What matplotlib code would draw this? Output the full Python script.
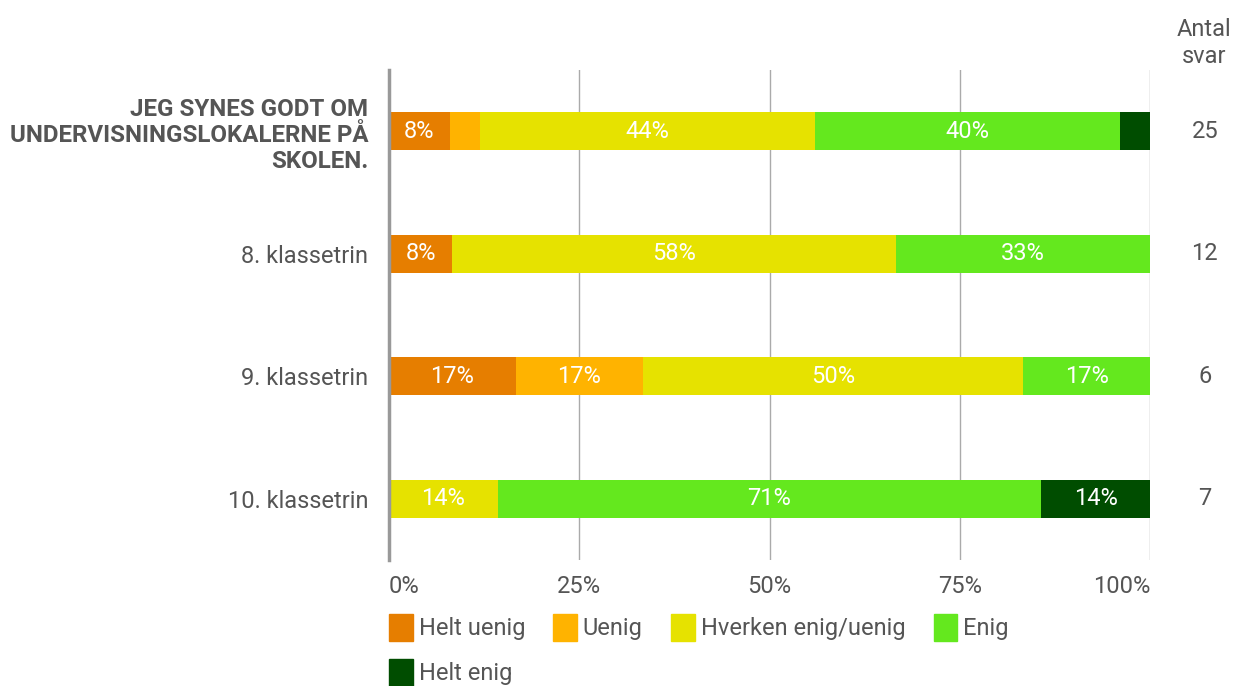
import matplotlib
matplotlib.use("Agg")
import matplotlib.pyplot as plt
from matplotlib.patches import Patch

plt.rcParams['font.family'] = ['Roboto', 'DejaVu Sans']

# Data
rows = ["JEG SYNES GODT OM\nUNDERVISNINGSLOKALERNE PÅ\nSKOLEN.",
        "8. klassetrin", "9. klassetrin", "10. klassetrin"]
answers = [25, 12, 6, 7]
categories = ["Helt uenig", "Uenig", "Hverken enig/uenig", "Enig", "Helt enig"]
helt_uenig = [8.0, 8.33, 16.67, 0.0]
uenig = [4.0, 0.0, 16.67, 0.0]
hverken = [44.0, 58.33, 50.0, 14.29]
enig = [40.0, 33.33, 16.67, 71.43]
helt_enig = [4.0, 0.0, 0.0, 14.29]
colors = ["#E67E00", "#FFB300", "#E6E200", "#64E81E", "#004D00"]
xticks = [0, 25, 50, 75, 100]
xtick_labels = ["0%", "25%", "50%", "75%", "100%"]

series = [helt_uenig, uenig, hverken, enig, helt_enig]
text_col = "#555555"
fs = 17

fig = plt.figure(figsize=(12.34, 6.86), dpi=100)
ax = fig.add_axes([389 / 1234, 1 - 560 / 686, 761 / 1234, 490 / 686])

y = list(range(len(rows)))
left = [0.0] * len(rows)
for vals, col, name in zip(series, colors, categories):
    ax.barh(y, vals, left=left, height=0.31, color=col, label=name)
    for i, v in enumerate(vals):
        if v >= 6:
            ax.text(left[i] + v / 2, i, f"{round(v)}%", ha="center", va="center",
                    color="white", fontsize=fs)
    left = [l + v for l, v in zip(left, vals)]

ax.set_xlim(0, 100)
ax.set_ylim(3.5, -0.5)
ax.set_xticks(xticks)
ax.set_xticklabels(xtick_labels)
ax.set_yticks(y)
ax.set_yticklabels(rows)
ax.tick_params(axis="both", length=0, labelcolor=text_col, labelsize=fs)
ax.tick_params(axis="y", pad=15)
ax.tick_params(axis="x", pad=11)
# first and last x labels kept inside the plot width
xt = ax.get_xticklabels()
xt[0].set_horizontalalignment("left")
xt[-1].set_horizontalalignment("right")

lbl = ax.get_yticklabels()[0]
lbl.set_fontweight("bold")
lbl.set_fontsize(17.4)
lbl.set_linespacing(1.18)

ax.grid(axis="x", color="#aaaaaa", linewidth=1)
ax.set_axisbelow(True)
for s in ["top", "right", "bottom"]:
    ax.spines[s].set_visible(False)
ax.spines["left"].set_color("#999999")
ax.spines["left"].set_linewidth(2.5)

# answer counts
fig.text(1204 / 1234, 1 - 43 / 686, "Antal\nsvar", ha="center", va="center",
         fontsize=fs, color=text_col, linespacing=1.2)
for i, n in enumerate(answers):
    ax.text(1.072, i, str(n), transform=ax.get_yaxis_transform(), ha="center",
            va="center", fontsize=fs, color=text_col)

# legend fills column-wise, so order it to read row-wise
order = [0, 4, 1, 2, 3]
handles = [Patch(facecolor=colors[k], edgecolor=colors[k]) for k in order]
labels = [categories[k] for k in order]
fig.legend(handles, labels, ncol=4, loc="upper left",
           bbox_to_anchor=(389 / 1234, 1 - 614 / 686), frameon=False,
           fontsize=fs, labelcolor=text_col, handlelength=1.0, handleheight=1.4,
           handletextpad=0.25, columnspacing=1.2, labelspacing=0.75, borderaxespad=0,
           borderpad=0)

fig.savefig("out.png", dpi=100)
